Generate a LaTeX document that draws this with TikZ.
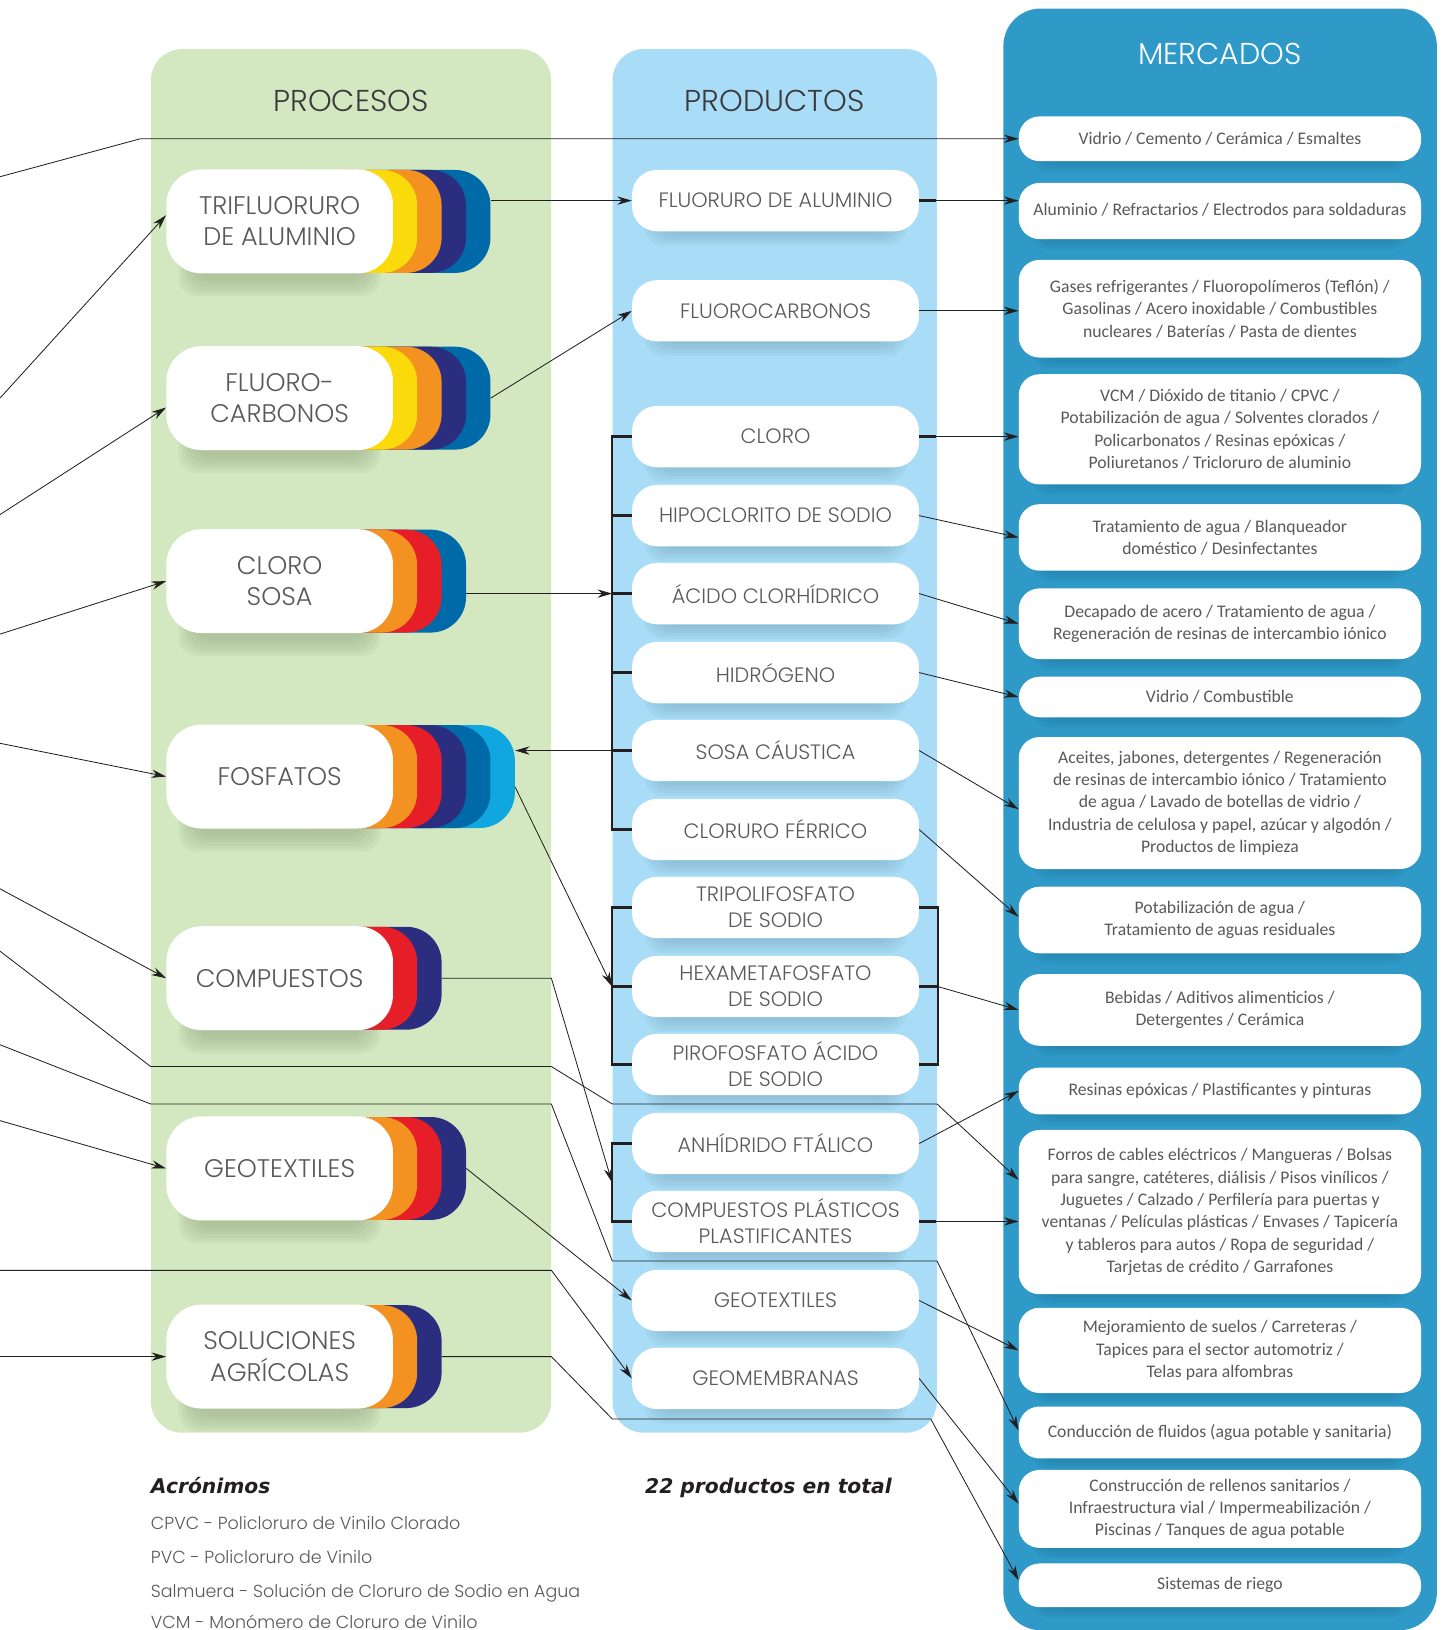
\documentclass[tikz,border=0pt]{standalone}
\usepackage{fontspec}
\usepackage{tikz}
\usetikzlibrary{arrows.meta,calc}

\IfFontExistsTF{Poppins Light}{\newfontfamily\headfont{Poppins Light}}{\newfontfamily\headfont{Poppins}}
\newfontfamily\bodyfont{Carlito}
\newfontfamily\notefont{DejaVu Sans}

\definecolor{GreenPanel}{RGB}{211,232,192}
\definecolor{BluePanel}{RGB}{169,221,247}
\definecolor{MktPanel}{RGB}{47,154,200}
\definecolor{ShadowGreen}{RGB}{150,172,132}
\definecolor{ShadowBlue}{RGB}{118,165,186}
\definecolor{ShadowDark}{RGB}{26,107,143}
\definecolor{PYellow}{RGB}{250,218,10}
\definecolor{POrange}{RGB}{243,146,33}
\definecolor{PNavy}{RGB}{43,46,127}
\definecolor{PBlue}{RGB}{0,106,169}
\definecolor{PRed}{RGB}{229,30,39}
\definecolor{PCyan}{RGB}{16,166,223}
\definecolor{TextGray}{RGB}{88,89,91}
\definecolor{TitleGray}{RGB}{58,58,60}
\definecolor{LineGray}{RGB}{35,31,32}

\pgfdeclarelayer{back}
\pgfdeclarelayer{shade}
\pgfsetlayers{back,shade,main}

% soft shadow under a box: node, colour, drop
\newcommand\softshadow[3]{%
  \begin{pgfonlayer}{shade}
    \foreach \s in {0,3,...,15}
      \fill[#2, opacity=.12, rounded corners=18pt]
        ([xshift={(12+\s)*1pt}, yshift={(\s-#3)*1pt}]#1.south west) rectangle
        ([xshift={(-12-\s)*1pt}, yshift={(-\s-#3)*1pt}]#1.north east);
  \end{pgfonlayer}}

% process box with coloured tabs: name, y, text, tabs (index/colour, back to front)
\newcommand\proceso[4]{%
  \foreach \k/\col in {#4}
    \node[tab, fill=\col, anchor=east] (#1-tab\k) at ({378+23.5*\k}, #2) {};
  \node[procbox] (#1) at (269, #2) {#3};
  \softshadow{#1}{ShadowGreen}{22}}

\begin{document}
\begin{tikzpicture}[x=1pt, y=-1pt,
  panel/.style={rectangle, rounded corners=30pt, inner sep=0pt, anchor=north west},
  title/.style={font=\headfont\fontsize{29}{30}\selectfont, text=TitleGray},
  tab/.style={rectangle, rounded corners=34pt, minimum width=130pt, minimum height=99pt, inner sep=0pt},
  procbox/.style={rectangle, fill=white, rounded corners=34pt, minimum width=218pt, minimum height=100pt,
    inner sep=0pt, align=center, text=TextGray, font=\headfont\fontsize{24.5}{30}\selectfont},
  prodbox/.style={rectangle, fill=white, rounded corners=24pt, minimum width=276pt, minimum height=59pt,
    inner sep=0pt, align=center, text=TextGray, font=\headfont\fontsize{20}{25}\selectfont},
  mktbox/.style={rectangle, fill=white, rounded corners=20pt, minimum width=387pt,
    inner sep=0pt, align=center, text=TextGray, font=\bodyfont\fontsize{17}{21.5}\selectfont},
  link/.style={draw=LineGray, line width=0.8pt, -{Stealth[length=14pt, width=8pt]}},
  bracket/.style={draw=LineGray, line width=2.4pt},
  note/.style={font=\notefont\bfseries\itshape\fontsize{19.5}{22}\selectfont, text=LineGray, inner sep=0pt},
  acro/.style={font=\headfont\fontsize{16.8}{18}\selectfont, text=TextGray, inner sep=0pt, anchor=base west}
]
\useasboundingbox (0,0) rectangle (1387,1568);

% panels
\begin{pgfonlayer}{back}
  \node[panel, fill=GreenPanel, minimum width=385pt, minimum height=1331pt] (procesos) at (145,47) {};
  \node[panel, fill=BluePanel, minimum width=312pt, minimum height=1331pt] (productos) at (589,47) {};
  \node[panel, fill=MktPanel, rounded corners=36pt, minimum width=417pt, minimum height=1560pt] (mercados) at (965,8) {};
\end{pgfonlayer}
\node[title] at (procesos.north |- 0,97) {PROCESOS};
\node[title] at (productos.north |- 0,97) {PRODUCTOS};
\node[title, text=white] at (mercados.north |- 0,52) {MERCADOS};

% procesos
\proceso{trif}{213}{TRIFLUORURO\\DE ALUMINIO}{4/PBlue,3/PNavy,2/POrange,1/PYellow}
\proceso{fluo}{383}{FLUORO-\\CARBONOS}{4/PBlue,3/PNavy,2/POrange,1/PYellow}
\proceso{clso}{559}{CLORO\\SOSA}{3/PBlue,2/PRed,1/POrange}
\proceso{fosf}{747}{FOSFATOS}{5/PCyan,4/PBlue,3/PNavy,2/PRed,1/POrange}
\proceso{comp}{941}{COMPUESTOS}{2/PNavy,1/PRed}
\proceso{geot}{1124}{GEOTEXTILES}{3/PNavy,2/PRed,1/POrange}
\proceso{agri}{1305}{SOLUCIONES\\AGRÍCOLAS}{2/PNavy,1/POrange}

% productos
\node[prodbox] (fluoruro) at (746,193) {FLUORURO DE ALUMINIO};
\node[prodbox] (fluorocarb) at (746,299) {FLUOROCARBONOS};
\node[prodbox] (cloro) at (746,420) {CLORO};
\node[prodbox] (hipo) at (746,496) {HIPOCLORITO DE SODIO};
\node[prodbox] (hcl) at (746,571) {ÁCIDO CLORHÍDRICO};
\node[prodbox] (hidr) at (746,647) {HIDRÓGENO};
\node[prodbox] (sosa) at (746,722) {SOSA CÁUSTICA};
\node[prodbox] (clfe) at (746,798) {CLORURO FÉRRICO};
\node[prodbox] (tripo) at (746,873) {TRIPOLIFOSFATO\\DE SODIO};
\node[prodbox] (hexa) at (746,949) {HEXAMETAFOSFATO\\DE SODIO};
\node[prodbox] (piro) at (746,1024) {PIROFOSFATO ÁCIDO\\DE SODIO};
\node[prodbox] (anhi) at (746,1100) {ANHÍDRIDO FTÁLICO};
\node[prodbox] (cplas) at (746,1175) {COMPUESTOS PLÁSTICOS\\PLASTIFICANTES};
\node[prodbox] (geotex) at (746,1251) {GEOTEXTILES};
\node[prodbox] (geomem) at (746,1326) {GEOMEMBRANAS};
\foreach \p in {fluoruro,fluorocarb,cloro,hipo,hcl,hidr,sosa,clfe,tripo,hexa,piro,anhi,cplas,geotex,geomem}
  {\softshadow{\p}{ShadowBlue}{14}}

% mercados
\node[mktbox, minimum height=43pt] (mkt1) at (1173.5,133.5) {Vidrio / Cemento / Cerámica / Esmaltes};
\node[mktbox, minimum height=54pt] (mkt2) at (1173.5,203) {Aluminio / Refractarios / Electrodos para soldaduras};
\node[mktbox, minimum height=94pt] (mkt3) at (1173.5,297) {Gases refrigerantes / Fluoropolímeros (Teflón) /\\Gasolinas / Acero inoxidable / Combustibles\\nucleares / Baterías / Pasta de dientes};
\node[mktbox, minimum height=106pt] (mkt4) at (1173.5,413) {VCM / Dióxido de titanio / CPVC /\\Potabilización de agua / Solventes clorados /\\Policarbonatos / Resinas epóxicas /\\Poliuretanos / Tricloruro de aluminio};
\node[mktbox, minimum height=64pt] (mkt5) at (1173.5,517) {Tratamiento de agua / Blanqueador\\doméstico / Desinfectantes};
\node[mktbox, minimum height=68pt] (mkt6) at (1173.5,600) {Decapado de acero / Tratamiento de agua /\\Regeneración de resinas de intercambio iónico};
\node[mktbox, minimum height=39pt] (mkt7) at (1173.5,670.5) {Vidrio / Combustible};
\node[mktbox, minimum height=127pt] (mkt8) at (1173.5,772.5) {Aceites, jabones, detergentes / Regeneración\\de resinas de intercambio iónico / Tratamiento\\de agua / Lavado de botellas de vidrio /\\Industria de celulosa y papel, azúcar y algodón /\\Productos de limpieza};
\node[mktbox, minimum height=64pt] (mkt9) at (1173.5,885) {Potabilización de agua /\\Tratamiento de aguas residuales};
\node[mktbox, minimum height=69pt] (mkt10) at (1173.5,971.5) {Bebidas / Aditivos alimenticios /\\Detergentes / Cerámica};
\node[mktbox, minimum height=45pt] (mkt11) at (1173.5,1049.5) {Resinas epóxicas / Plastificantes y pinturas};
\node[mktbox, minimum height=158pt] (mkt12) at (1173.5,1166) {Forros de cables eléctricos / Mangueras / Bolsas\\para sangre, catéteres, diálisis / Pisos vinílicos /\\Juguetes / Calzado / Perfilería para puertas y\\ventanas / Películas plásticas / Envases / Tapicería\\y tableros para autos / Ropa de seguridad /\\Tarjetas de crédito / Garrafones};
\node[mktbox, minimum height=82pt] (mkt13) at (1173.5,1299) {Mejoramiento de suelos / Carreteras /\\Tapices para el sector automotriz /\\Telas para alfombras};
\node[mktbox, minimum height=50pt] (mkt14) at (1173.5,1378) {Conducción de fluidos (agua potable y sanitaria)};
\node[mktbox, minimum height=75pt] (mkt15) at (1173.5,1451.5) {Construcción de rellenos sanitarios /\\Infraestructura vial / Impermeabilización /\\Piscinas / Tanques de agua potable};
\node[mktbox, minimum height=42pt] (mkt16) at (1173.5,1525) {Sistemas de riego};
\foreach \m in {1,...,16}
  {\softshadow{mkt\m}{ShadowDark}{10}}

% brackets
\draw[bracket] (cloro.west) -- ++(-19,0) |- (clfe.west);
\foreach \p in {hipo,hcl,hidr,sosa}
  \draw[bracket] (\p.west) -- ++(-19,0) coordinate (\p-br);
\draw[bracket] (tripo.west) -- ++(-19,0) |- (piro.west);
\draw[bracket] (hexa.west) -- ++(-19,0) coordinate (hexa-br);
\draw[bracket] (tripo.east) -- ++(18,0) |- (piro.east);
\draw[bracket] (hexa.east) -- ++(18,0) coordinate (fos-mid);
\draw[bracket] (anhi.west) -- ++(-19,0) coordinate (anhi-br) |- (cplas.west);
\coordinate (plas-mid) at ($(anhi-br)!.5!(anhi-br |- cplas)$);
\foreach \p in {fluoruro,cloro,cplas}
  \draw[bracket] (\p.east) -- ++(16,0);

% entradas
\coordinate (in-vidrio) at (0,170);
\coordinate (in-trif) at (0,383);
\coordinate (in-fluo) at (0,495);
\coordinate (in-clso) at (0,610);
\coordinate (in-fosf) at (0,715);
\coordinate (in-comp) at (0,855);
\coordinate (in-forros) at (0,915);
\coordinate (in-fluidos) at (0,1005);
\coordinate (in-geot) at (0,1078);
\coordinate (in-geomem) at (0,1222);
\coordinate (in-agri) at (0,1305);

\draw[link] (in-vidrio) -- ([xshift=-10pt]procesos.west |- mkt1) -- (mkt1);
\draw[link] (in-trif) -- ([yshift=6pt]trif.west);
\draw[link] (in-fluo) -- ([yshift=-9pt]fluo.west);
\draw[link] (in-clso) -- (clso.west);
\draw[link] (in-fosf) -- (fosf.west);
\draw[link] (in-comp) -- (comp.west);
\draw[link] (in-geot) -- (geot.west);
\draw[link] (in-agri) -- (agri.west);
\draw[link] (in-forros) -- (procesos.west |- 0,1026) -- (procesos.east |- 0,1026)
  -- (productos.west |- 0,1062) -- (productos.east |- 0,1062) -- (mkt12.west |- 0,1135);
\draw[link] (in-fluidos) -- (procesos.west |- 0,1062) -- (procesos.east |- 0,1062)
  -- (productos.west |- 0,1213) -- (productos.east |- 0,1213) -- (mkt14.west |- 0,1376);
\draw[link] (in-geomem) -- (procesos.east |- in-geomem) -- (geomem.west);

% procesos -> productos
\draw[link] (trif-tab4.east |- fluoruro) -- (fluoruro);
\draw[link] (fluo-tab4.east) -- (fluorocarb.west);
\draw[link] (clso-tab3.east |- hcl-br) -- (hcl-br);
\draw[link] (sosa-br) -- (fosf-tab5.east |- sosa-br);
\draw[link] ([yshift=-10pt]fosf-tab5.east) -- (hexa-br);
\draw[link] (comp-tab2.east) -- (procesos.east |- comp) -- (plas-mid);
\draw[link] (geot-tab3.east) -- (geotex.west);
\draw[link] (agri-tab2.east) -- (procesos.east |- agri) -- (productos.west |- 0,1365)
  -- ([xshift=-6pt]productos.east |- 0,1365) -- (mkt16.west |- 0,1520);

% productos -> mercados
\draw[link] (fluoruro.east) -- (mkt2.west |- fluoruro);
\draw[link] (fluorocarb.east) -- (mkt3.west |- fluorocarb);
\draw[link] (cloro.east) -- (mkt4.west |- cloro);
\draw[link] (hipo.east) -- (mkt5.west);
\draw[link] (hcl.east) -- (mkt6.west);
\draw[link] (hidr.east) -- (mkt7.west);
\draw[link] (sosa.east) -- ([yshift=-6pt]mkt8.west);
\draw[link] (clfe.east) -- ([yshift=3pt]mkt9.west);
\draw[link] (fos-mid) -- (mkt10.west);
\draw[link] (anhi.east) -- (mkt11.west);
\draw[link] (cplas.east) -- (mkt12.west |- cplas);
\draw[link] (geotex.east) -- (mkt13.west);
\draw[link] (geomem.east) -- ([yshift=5pt]mkt15.west);

% notas
\node[note, anchor=base west] (acronimos) at (145,1437) {Acrónimos};
\node[note, anchor=base] (total) at ([xshift=-6pt]productos.south |- 0,1437) {22 productos en total};
\node[acro] (cpvc) at (145,1471) {CPVC - Policloruro de Vinilo Clorado};
\node[acro] (pvc) at (145,1504) {PVC - Policloruro de Vinilo};
\node[acro] (salm) at (145,1537) {Salmuera - Solución de Cloruro de Sodio en Agua};
\node[acro] (vcm) at (145,1567) {VCM - Monómero de Cloruro de Vinilo};
\end{tikzpicture}
\end{document}
